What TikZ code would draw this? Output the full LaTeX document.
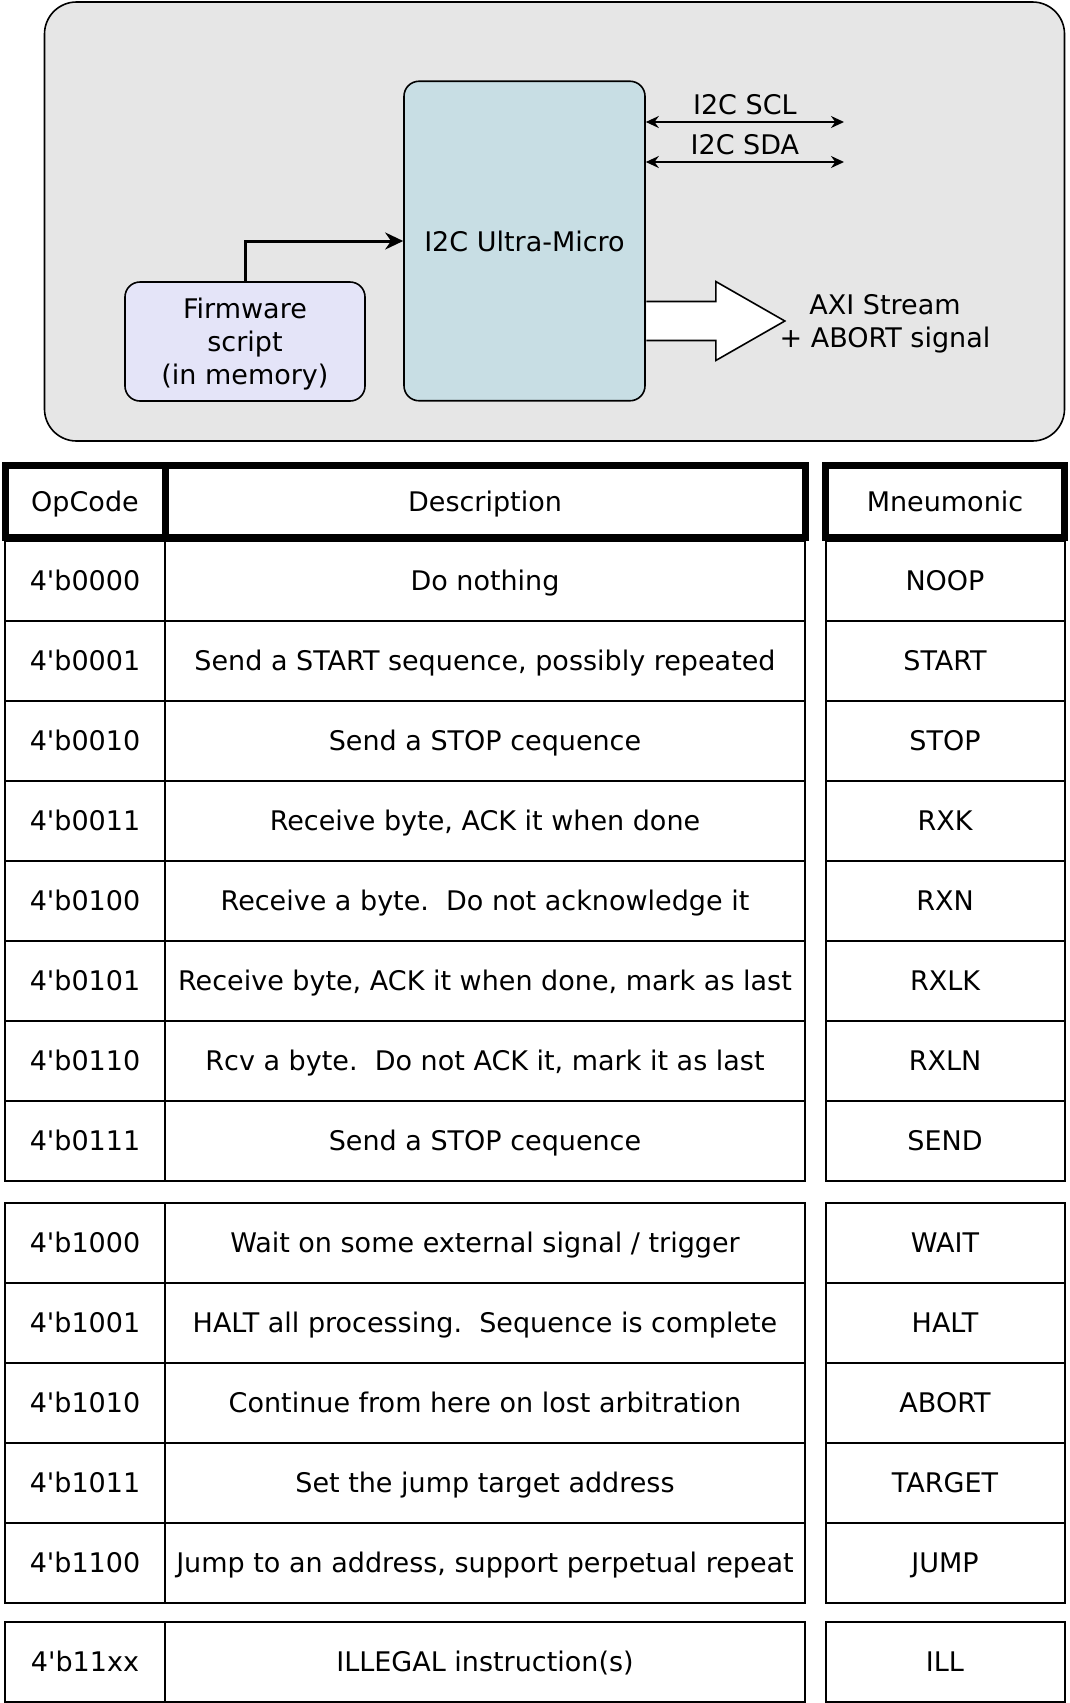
\documentclass[tikz,border=0pt]{standalone}
\usepackage{fontspec}
\setmainfont{DejaVu Sans}
\usepackage{tikz}
\usetikzlibrary{arrows.meta,calc,positioning}
\definecolor{panelgray}{RGB}{230,230,230}
\definecolor{microblue}{RGB}{200,222,228}
\definecolor{fwlavender}{RGB}{228,228,248}
\newcommand{\opq}{\textquotesingle}
\tikzset{>={Stealth[length=6.5pt,width=6pt]},
	cell/.style={% Table cells, one per node
		draw, rectangle,
		line width=1pt,
		minimum height=40pt,
		inner sep=0pt,
		outer sep=0pt,
		text height=9.8pt,
		text depth=0pt,
		align=center
	},
	headcell/.style={
		cell,
		line width=3.5pt,
		minimum height=36pt
	},
	block/.style={
		draw, rectangle,
		rounded corners=7.5pt,
		line width=0.8pt,
		inner sep=0pt,
		align=center
	}
}
\begin{document}
\begin{tikzpicture}[x=0.5pt, y=-0.5pt, font=\fontsize{13.5}{16.5}\selectfont]
                        \useasboundingbox (0,0) rectangle (1070,1703);
                        % block diagram
                        \node [block, fill=panelgray, rounded corners=16pt, minimum width=510pt, minimum height=219.5pt] (panel) at (554.5,221.5) {};
                        \node [block, fill=microblue, minimum width=120.5pt, minimum height=159.75pt] (micro) at (524.5,241) {I2C Ultra-Micro};
                        \node [block, fill=fwlavender, text depth=0pt, minimum width=120pt, minimum height=59.5pt] (firmware) at (245,341.5) {Firmware\\script\\(in memory)};
                        \node [align=center, inner sep=0pt, text depth=0pt] (axi) at (885,321) {AXI Stream\\+ ABORT signal};
                        \coordinate (sclend) at (844,122);
                        \coordinate (sdaend) at (844,162);
                        \coordinate (axitail) at (micro.east |- axi);
                        \draw [-{Stealth[length=9pt,width=8.5pt]}, line width=1.5pt] (firmware.north) |- (micro.west);
                        \draw [<->, line width=0.8pt] (micro.east |- sclend) -- node[above] {I2C SCL} (sclend);
                        \draw [<->, line width=0.8pt] (micro.east |- sdaend) -- node[above] {I2C SDA} (sdaend);
                        \draw [fill=white, line width=0.8pt] ($(axitail)+(0.5,-19.5)$) -- ++(69.5,0) -- ++(0,-20) -- ++(69,39.5) -- ++(-69,39.5) -- ++(0,-20) -- ++(-69.5,0);
                        % opcode table, first group
                        \node [cell, minimum width=80pt] (op1) at (85,581) {4\opq b0000};
                        \node [cell, minimum width=320pt] (desc1) at (485,581) {Do nothing};
                        \node [cell, minimum width=119.5pt] (mn1) at (945,581) {NOOP};
                        \node [cell, minimum width=80pt] (op2) at (85,661) {4\opq b0001};
                        \node [cell, minimum width=320pt] (desc2) at (485,661) {Send a START sequence, possibly repeated};
                        \node [cell, minimum width=119.5pt] (mn2) at (945,661) {START};
                        \node [cell, minimum width=80pt] (op3) at (85,741) {4\opq b0010};
                        \node [cell, minimum width=320pt] (desc3) at (485,741) {Send a STOP cequence};
                        \node [cell, minimum width=119.5pt] (mn3) at (945,741) {STOP};
                        \node [cell, minimum width=80pt] (op4) at (85,821) {4\opq b0011};
                        \node [cell, minimum width=320pt] (desc4) at (485,821) {Receive byte, ACK it when done};
                        \node [cell, minimum width=119.5pt] (mn4) at (945,821) {RXK};
                        \node [cell, minimum width=80pt] (op5) at (85,901) {4\opq b0100};
                        \node [cell, minimum width=320pt] (desc5) at (485,901) {Receive a byte.\ \ Do not acknowledge it};
                        \node [cell, minimum width=119.5pt] (mn5) at (945,901) {RXN};
                        \node [cell, minimum width=80pt] (op6) at (85,981) {4\opq b0101};
                        \node [cell, minimum width=320pt] (desc6) at (485,981) {Receive byte, ACK it when done, mark as last};
                        \node [cell, minimum width=119.5pt] (mn6) at (945,981) {RXLK};
                        \node [cell, minimum width=80pt] (op7) at (85,1061) {4\opq b0110};
                        \node [cell, minimum width=320pt] (desc7) at (485,1061) {Rcv a byte.\ \ Do not ACK it, mark it as last};
                        \node [cell, minimum width=119.5pt] (mn7) at (945,1061) {RXLN};
                        \node [cell, minimum width=80pt] (op8) at (85,1141) {4\opq b0111};
                        \node [cell, minimum width=320pt] (desc8) at (485,1141) {Send a STOP cequence};
                        \node [cell, minimum width=119.5pt] (mn8) at (945,1141) {SEND};
                        % second group
                        \node [cell, minimum width=80pt] (op9) at (85,1242.5) {4\opq b1000};
                        \node [cell, minimum width=320pt] (desc9) at (485,1242.5) {Wait on some external signal / trigger};
                        \node [cell, minimum width=119.5pt] (mn9) at (945,1242.5) {WAIT};
                        \node [cell, minimum width=80pt] (op10) at (85,1322.5) {4\opq b1001};
                        \node [cell, minimum width=320pt] (desc10) at (485,1322.5) {HALT all processing.\ \ Sequence is complete};
                        \node [cell, minimum width=119.5pt] (mn10) at (945,1322.5) {HALT};
                        \node [cell, minimum width=80pt] (op11) at (85,1402.5) {4\opq b1010};
                        \node [cell, minimum width=320pt] (desc11) at (485,1402.5) {Continue from here on lost arbitration};
                        \node [cell, minimum width=119.5pt] (mn11) at (945,1402.5) {ABORT};
                        \node [cell, minimum width=80pt] (op12) at (85,1482.5) {4\opq b1011};
                        \node [cell, minimum width=320pt] (desc12) at (485,1482.5) {Set the jump target address};
                        \node [cell, minimum width=119.5pt] (mn12) at (945,1482.5) {TARGET};
                        \node [cell, minimum width=80pt] (op13) at (85,1562.5) {4\opq b1100};
                        \node [cell, minimum width=320pt] (desc13) at (485,1562.5) {Jump to an address, support perpetual repeat};
                        \node [cell, minimum width=119.5pt] (mn13) at (945,1562.5) {JUMP};
                        % third group
                        \node [cell, minimum width=80pt] (op14) at (85,1662) {4\opq b11xx};
                        \node [cell, minimum width=320pt] (desc14) at (485,1662) {ILLEGAL instruction(s)};
                        \node [cell, minimum width=119.5pt] (mn14) at (945,1662) {ILL};
                        % header on top
                        \node [headcell, minimum width=80pt] (ophead) at (85,501.5) {OpCode};
                        \node [headcell, minimum width=320pt] (deschead) at (485,501.5) {Description};
                        \node [headcell, minimum width=119.5pt] (mnhead) at (945,501.5) {Mneumonic};
                \end{tikzpicture}
\end{document}
